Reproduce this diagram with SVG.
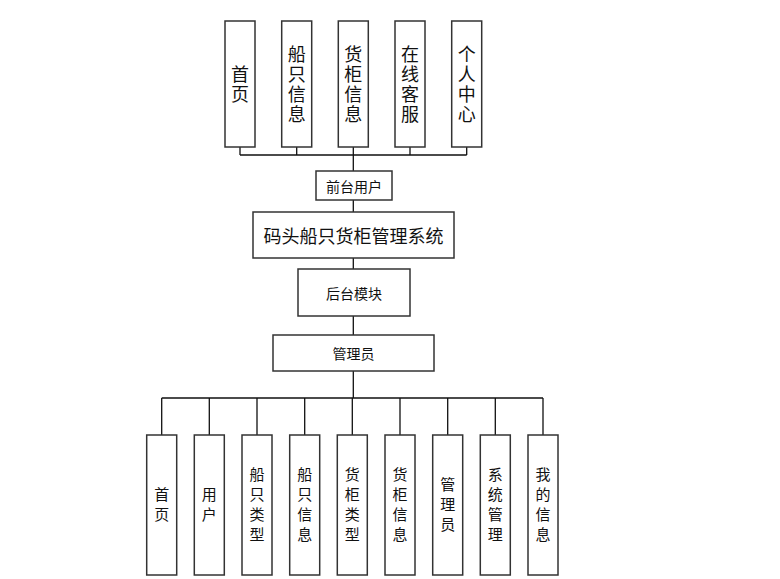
<svg xmlns="http://www.w3.org/2000/svg" width="780" height="579" viewBox="0 0 780 579">
<style>
.b{fill:#fff;stroke:#333;stroke-width:1.5}
.t{font-family:"Noto Sans CJK SC","Liberation Sans",sans-serif;fill:#111;text-anchor:middle;dominant-baseline:central}
.v{writing-mode:vertical-rl;text-orientation:upright}
.t18{font-size:18px}
.v18{font-size:18px;letter-spacing:2px}
.v15{font-size:15px;letter-spacing:5px}
.t14{font-size:14px}
.c{fill:none;stroke:#111;stroke-width:1.3}
</style>
<rect width="780" height="579" fill="#fff"/>
<g id="connectors">
<path class="c" d="M240,147V155M296.7,147V155M353.3,147V171M410,147V155M466.7,147V155M240,155H466.7"/>
<path class="c" d="M353.3,200V212M353.3,258V269M353.3,316V335M353.3,371V398"/>
<path class="c" d="M161.7,398H543M161.7,398V435M209.3,398V435M257,398V435M304.7,398V435M352.3,398V435M400,398V435M447.7,398V435M495.3,398V435M543,398V435"/>
</g>
<g id="top-home"><rect class="b" x="225" y="21" width="30" height="126"/><text class="t v v18" x="240" y="85">首页</text></g>
<g id="top-ship"><rect class="b" x="281.7" y="21" width="30" height="126"/><text class="t v v18" x="296.7" y="85">船只信息</text></g>
<g id="top-container"><rect class="b" x="338.3" y="21" width="30" height="126"/><text class="t v v18" x="353.3" y="85">货柜信息</text></g>
<g id="top-service"><rect class="b" x="395" y="21" width="30" height="126"/><text class="t v v18" x="410" y="85">在线客服</text></g>
<g id="top-personal"><rect class="b" x="451.7" y="21" width="30" height="126"/><text class="t v v18" x="466.7" y="85">个人中心</text></g>
<g id="front-user"><rect class="b" x="316" y="171" width="76" height="29"/><text class="t t14" x="354" y="185.5">前台用户</text></g>
<g id="system"><rect class="b" x="253" y="212" width="201" height="46"/><text class="t t18" x="353.5" y="235">码头船只货柜管理系统</text></g>
<g id="backend"><rect class="b" x="298" y="269" width="112" height="47"/><text class="t t14" x="354" y="292.5">后台模块</text></g>
<g id="admin"><rect class="b" x="273" y="335" width="161" height="36"/><text class="t t14" x="353.5" y="353">管理员</text></g>
<g id="b-home"><rect class="b" x="146.7" y="435" width="30" height="140"/><text class="t v v15" x="161.7" y="507">首页</text></g>
<g id="b-user"><rect class="b" x="194.3" y="435" width="30" height="140"/><text class="t v v15" x="209.3" y="507">用户</text></g>
<g id="b-shiptype"><rect class="b" x="242" y="435" width="30" height="140"/><text class="t v v15" x="257" y="507">船只类型</text></g>
<g id="b-shipinfo"><rect class="b" x="289.7" y="435" width="30" height="140"/><text class="t v v15" x="304.7" y="507">船只信息</text></g>
<g id="b-ctype"><rect class="b" x="337.3" y="435" width="30" height="140"/><text class="t v v15" x="352.3" y="507">货柜类型</text></g>
<g id="b-cinfo"><rect class="b" x="385" y="435" width="30" height="140"/><text class="t v v15" x="400" y="507">货柜信息</text></g>
<g id="b-admin"><rect class="b" x="432.7" y="435" width="30" height="140"/><text class="t v v15" x="447.7" y="507">管理员</text></g>
<g id="b-sys"><rect class="b" x="480.3" y="435" width="30" height="140"/><text class="t v v15" x="495.3" y="507">系统管理</text></g>
<g id="b-mine"><rect class="b" x="528" y="435" width="30" height="140"/><text class="t v v15" x="543" y="507">我的信息</text></g>
</svg>
